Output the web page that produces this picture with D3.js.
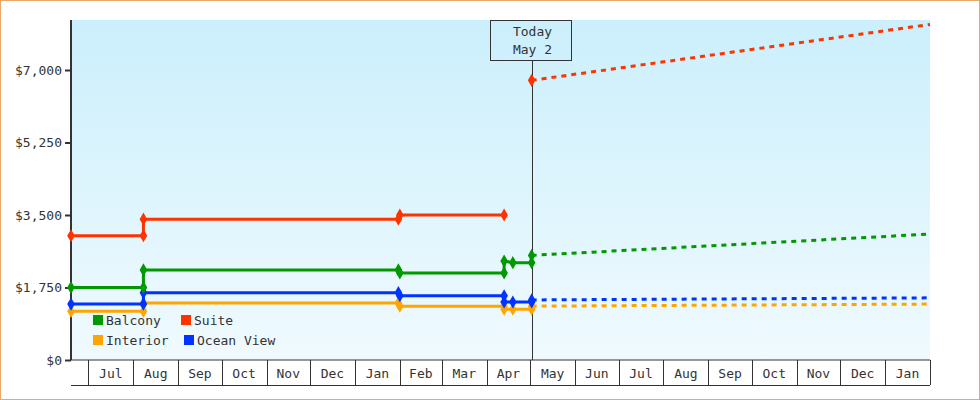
<!DOCTYPE html>
<html><head><meta charset="utf-8">
<script src="https://cdn.jsdelivr.net/npm/d3@7"></script>
<style>body{margin:0;background:#fff}svg{display:block}text{font-family:"DejaVu Sans Mono",monospace;font-size:13px;fill:#333}</style>
</head><body>
<svg id="chart" width="980" height="400"></svg>
<script>
// price history (step points) per cabin
const seriesNames = ["Balcony", "Suite", "Interior", "Ocean View"];
const seriesColors = ["#009900", "#ff3300", "#ffa500", "#0033ff"];
const balcony = [["2023-06-19",1750],["2023-08-08",1750],["2023-08-08",2175],["2024-01-31",2175],["2024-02-01",2100],["2024-04-13",2100],["2024-04-13",2390],["2024-04-19",2350],["2024-05-02",2350],["2024-05-02",2525]];
const suite = [["2023-06-19",3000],["2023-08-08",3000],["2023-08-08",3400],["2024-01-31",3400],["2024-02-01",3500],["2024-04-13",3500]];
const interior = [["2023-06-19",1175],["2023-08-08",1175],["2023-08-08",1375],["2024-01-31",1375],["2024-02-01",1300],["2024-04-13",1300],["2024-04-13",1225],["2024-04-19",1225],["2024-05-02",1225],["2024-05-02",1300]];
const oceanView = [["2023-06-19",1350],["2023-08-08",1350],["2023-08-08",1625],["2024-01-31",1625],["2024-02-01",1550],["2024-04-13",1550],["2024-04-13",1400],["2024-04-19",1400],["2024-05-02",1400],["2024-05-02",1450]];
const todayPoints = [["2024-05-02",6750]]; // suite today
// forecast (dashed) start / end
const forecastBalcony = [["2024-05-02",2525],["2025-02-01",3040]];
const forecastSuite = [["2024-05-02",6750],["2025-02-01",8100]];
const forecastInterior = [["2024-05-02",1300],["2025-02-01",1350]];
const forecastOcean = [["2024-05-02",1450],["2025-02-01",1500]];
const yTicks = [0, 1750, 3500, 5250, 7000];
const today = "2024-05-02";

const parse = d3.timeParse("%Y-%m-%d");
const svg = d3.select("#chart");
const L = 71, R = 930, T = 20, B = 360;

const x = d3.scaleTime().domain([parse("2023-06-19"), parse("2025-02-01")]).range([L, R]);
const y = d3.scaleLinear().domain([0, 7000]).range([B, 70]);

svg.append("rect").attr("x",0.5).attr("y",0.5).attr("width",979).attr("height",399)
  .attr("fill","#fff").attr("stroke","#e8a868");

const grad = svg.append("defs").append("linearGradient").attr("id","bg").attr("x1",0).attr("x2",0).attr("y1",0).attr("y2",1);
grad.append("stop").attr("offset","0%").attr("stop-color","#cbeffc");
grad.append("stop").attr("offset","100%").attr("stop-color","#f0fafe");
svg.append("rect").attr("x",L).attr("y",T).attr("width",R-L).attr("height",B-T).attr("fill","url(#bg)");

// y axis
const yAxis = svg.append("g").attr("transform",`translate(${L},0)`)
  .call(d3.axisLeft(y).tickValues(yTicks).tickSize(6).tickFormat(d => "$" + d3.format(",")(d)));
yAxis.select(".domain").remove();
yAxis.selectAll("line").attr("stroke","#333").attr("stroke-width",2);
yAxis.selectAll("text").attr("font-family","DejaVu Sans Mono").attr("font-size",13).attr("fill","#333");
svg.append("line").attr("x1",L).attr("x2",L).attr("y1",T).attr("y2",B).attr("stroke","#333").attr("stroke-width",2);

// month axis cells
const months = d3.timeMonth.range(parse("2023-07-01"), parse("2025-02-01"));
const xa = svg.append("g");
xa.append("line").attr("x1",L).attr("x2",R).attr("y1",385.5).attr("y2",385.5).attr("stroke","#333");
xa.append("line").attr("x1",L).attr("x2",R).attr("y1",B).attr("y2",B).attr("stroke","#333");
months.concat([parse("2025-02-01")]).forEach(m => {
  const px = Math.round(x(m)) + 0.5;
  xa.append("line").attr("x1",px).attr("x2",px).attr("y1",B).attr("y2",385).attr("stroke","#333");
});
months.forEach(m => {
  const mid = (x(m) + x(d3.timeMonth.offset(m,1))) / 2;
  xa.append("text").attr("x",mid).attr("y",378).attr("text-anchor","middle").text(d3.timeFormat("%b")(m));
});

// today marker
const tx = Math.round(x(parse(today))) + 0.5;
svg.append("line").attr("x1",tx).attr("x2",tx).attr("y1",60).attr("y2",B).attr("stroke","#333");
svg.append("rect").attr("x",490.5).attr("y",20.5).attr("width",81).attr("height",40).attr("fill","none").attr("stroke","#333");
svg.append("text").attr("x",tx).attr("y",36).attr("text-anchor","middle").text("Today");
svg.append("text").attr("x",tx).attr("y",54).attr("text-anchor","middle").text("May 2");

const line = d3.line().x(d => x(parse(d[0]))).y(d => y(d[1]));
const diamond = d3.symbol().type(d3.symbolDiamond).size(50);

function drawForecast(data, color) {
  svg.append("path").attr("d", line(data)).attr("fill","none").attr("stroke",color)
    .attr("stroke-width",3).attr("stroke-dasharray","5,5");
}
function drawSeries(data, color) {
  svg.append("path").attr("d", line(data)).attr("fill","none").attr("stroke",color).attr("stroke-width",3);
  svg.selectAll(null).data(data).enter().append("path").attr("d", diamond)
    .attr("transform", d => `translate(${x(parse(d[0]))},${y(d[1])})`).attr("fill",color);
}
drawForecast(forecastInterior, seriesColors[2]);
drawForecast(forecastOcean, seriesColors[3]);
drawForecast(forecastBalcony, seriesColors[0]);
drawForecast(forecastSuite, seriesColors[1]);
drawSeries(interior, seriesColors[2]);
drawSeries(oceanView, seriesColors[3]);
drawSeries(balcony, seriesColors[0]);
drawSeries(suite, seriesColors[1]);
drawSeries(todayPoints, seriesColors[1]);

// legend
const legendPos = [[93,320],[181,320],[93,340],[184,340]];
seriesNames.forEach((n, i) => {
  const [lx, ly] = legendPos[i];
  svg.append("rect").attr("x",lx).attr("y",ly-5).attr("width",10).attr("height",10).attr("fill",seriesColors[i]);
  svg.append("text").attr("x",lx+13).attr("y",ly+5).text(n);
});
</script>
</body></html>
